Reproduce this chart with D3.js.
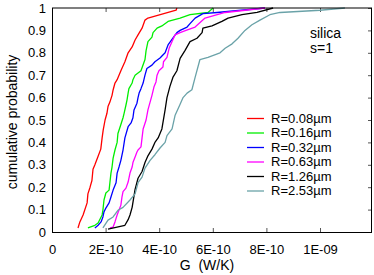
<!DOCTYPE html>
<html>
<head>
<meta charset="utf-8">
<script src="https://cdn.jsdelivr.net/npm/d3@7"></script>
<style>
  body { margin: 0; background: #fff; }
  text { font-family: "Liberation Sans", Arial, sans-serif; }
</style>
</head>
<body>
<div id="chart"></div>
<script>
// G values in units of 1E-10 W/K, paired with cumulative probability
var r008 = [[0.97,0.018],[1.04,0.045],[1.16,0.076],[1.31,0.13],[1.34,0.17],[1.42,0.20],[1.49,0.23],[1.53,0.28],
  [1.60,0.30],[1.71,0.335],[1.82,0.37],[1.87,0.42],[1.91,0.455],[1.98,0.5],[2.05,0.53],[2.09,0.56],[2.16,0.58],
  [2.24,0.61],[2.28,0.634],[2.35,0.665],[2.43,0.68],[2.50,0.70],[2.57,0.72],[2.72,0.76],[2.84,0.80],[2.99,0.826],
  [3.10,0.857],[3.21,0.88],[3.36,0.91],[3.47,0.946],[3.58,0.955],[4.63,0.99],[4.66,1.0]];
var r016 = [[1.34,0.018],[1.60,0.03],[1.72,0.04],[1.87,0.076],[1.90,0.098],[1.94,0.143],[2.01,0.174],[2.13,0.187],
  [2.16,0.22],[2.20,0.263],[2.24,0.29],[2.28,0.33],[2.35,0.366],[2.43,0.40],[2.46,0.44],[2.57,0.48],[2.65,0.51],
  [2.69,0.53],[2.76,0.567],[2.80,0.59],[2.84,0.62],[2.87,0.64],[2.99,0.665],[3.02,0.68],[3.10,0.70],[3.32,0.72],
  [3.47,0.77],[3.51,0.81],[3.58,0.85],[3.73,0.87],[3.77,0.89],[3.92,0.91],[4.10,0.92],[4.33,0.94],[4.78,0.955],
  [5.15,0.97],[5.82,0.98],[6.01,1.0]];
var r032 = [[1.60,0.018],[1.72,0.03],[1.83,0.045],[1.90,0.067],[1.94,0.09],[2.01,0.107],[2.13,0.13],[2.20,0.156],
  [2.28,0.187],[2.39,0.22],[2.43,0.263],[2.50,0.29],[2.57,0.32],[2.65,0.366],[2.72,0.42],[2.84,0.47],[2.95,0.487],
  [3.02,0.51],[3.06,0.545],[3.17,0.575],[3.21,0.60],[3.25,0.62],[3.32,0.64],[3.40,0.665],[3.43,0.68],[3.47,0.70],
  [3.54,0.73],[3.73,0.745],[3.84,0.76],[4.03,0.777],[4.22,0.80],[4.33,0.835],[4.51,0.866],[4.66,0.89],[4.78,0.90],
  [5.04,0.915],[5.15,0.93],[5.34,0.955],[5.63,0.975],[6.16,0.98],[7.95,1.0]];
var r063 = [[2.16,0.018],[2.28,0.022],[2.35,0.045],[2.43,0.076],[2.50,0.098],[2.57,0.12],[2.61,0.156],[2.65,0.18],
  [2.76,0.196],[2.84,0.223],[2.91,0.263],[2.99,0.29],[3.02,0.31],[3.10,0.335],[3.17,0.357],[3.21,0.366],[3.32,0.38],
  [3.36,0.42],[3.40,0.46],[3.51,0.50],[3.58,0.545],[3.66,0.58],[3.73,0.61],[3.81,0.65],[3.88,0.67],[3.92,0.70],
  [3.99,0.72],[4.14,0.737],[4.16,0.76],[4.29,0.78],[4.37,0.82],[4.48,0.85],[4.59,0.88],[4.78,0.89],[5.00,0.90],
  [5.34,0.915],[5.71,0.955],[6.46,0.98],[7.95,1.0]];
var r126 = [[2.09,0.013],[2.72,0.03],[2.84,0.055],[2.91,0.076],[2.99,0.11],[3.10,0.19],[3.21,0.24],[3.36,0.27],
  [3.47,0.31],[3.58,0.34],[3.73,0.37],[3.84,0.40],[3.96,0.42],[4.10,0.46],[4.22,0.545],[4.29,0.60],[4.40,0.65],
  [4.51,0.69],[4.66,0.72],[4.78,0.775],[4.96,0.81],[5.15,0.85],[5.41,0.865],[5.60,0.89],[5.63,0.91],[5.97,0.92],
  [6.34,0.94],[6.57,0.955],[7.09,0.97],[7.65,0.98],[8.25,1.0]];
var r253 = [[1.90,0.018],[2.09,0.053],[2.28,0.067],[2.46,0.097],[2.65,0.11],[2.91,0.143],[3.10,0.17],[3.21,0.22],
  [3.36,0.245],[3.47,0.285],[3.66,0.32],[3.84,0.345],[4.03,0.375],[4.22,0.40],[4.29,0.43],[4.48,0.46],[4.59,0.52],
  [4.78,0.57],[4.89,0.60],[5.04,0.62],[5.22,0.635],[5.34,0.69],[5.52,0.77],[5.82,0.78],[6.27,0.80],[6.46,0.82],
  [6.72,0.84],[6.94,0.865],[7.20,0.90],[7.46,0.925],[7.76,0.946],[8.13,0.97],[8.51,0.98],[10.0,0.99],[10.93,1.0]];

var seriesNames = ["R=0.08\u00b5m", "R=0.16\u00b5m", "R=0.32\u00b5m", "R=0.63\u00b5m", "R=1.26\u00b5m", "R=2.53\u00b5m"];
var seriesColors = ["#ff0000", "#00ee00", "#0000ff", "#ff00ff", "#000000", "#6aa2a8"];
var seriesData = [r008, r016, r032, r063, r126, r253];

var xTickValues = [0, 2, 4, 6, 8, 10];
var xTickLabels = ["0", "2E-10", "4E-10", "6E-10", "8E-10", "1E-09"];
var yTickValues = [0, 0.1, 0.2, 0.3, 0.4, 0.5, 0.6, 0.7, 0.8, 0.9, 1];
var yTickLabels = ["0", "0.1", "0.2", "0.3", "0.4", "0.5", "0.6", "0.7", "0.8", "0.9", "1"];

var svgWidth = 374;
var svgHeight = 275;
var margin = {top: 8, right: 2, bottom: 43, left: 52};
var width = svgWidth - margin.left - margin.right;
var height = svgHeight - margin.top - margin.bottom;

var svg = d3.select("#chart")
    .append("svg")
    .attr("width", svgWidth)
    .attr("height", svgHeight);

var chartGroup = svg.append("g")
    .attr("transform", `translate(${margin.left}, ${margin.top})`);

var xScale = d3.scaleLinear()
    .domain([0, 11.94])
    .range([0, width]);

var yScale = d3.scaleLinear()
    .domain([0, 1])
    .range([height, 0]);

// axes: ticks point inward like gnuplot
var bottomAxis = d3.axisBottom(xScale)
    .tickValues(xTickValues)
    .tickFormat((d, i) => xTickLabels[i])
    .tickSize(-4)
    .tickPadding(13);

var topAxis = d3.axisTop(xScale)
    .tickValues(xTickValues)
    .tickFormat("")
    .tickSize(-4);

var leftAxis = d3.axisLeft(yScale)
    .tickValues(yTickValues)
    .tickFormat((d, i) => yTickLabels[i])
    .tickSize(0)
    .tickPadding(6);

var rightAxis = d3.axisRight(yScale)
    .tickValues(yTickValues)
    .tickFormat("")
    .tickSize(-4);

var gb = chartGroup.append("g")
    .attr("transform", `translate(0, ${height})`)
    .call(bottomAxis);
var gt = chartGroup.append("g").call(topAxis);
var gl = chartGroup.append("g").call(leftAxis);
var gr = chartGroup.append("g")
    .attr("transform", `translate(${width}, 0)`)
    .call(rightAxis);

[gb, gt, gl, gr].forEach(function(g){
    g.select(".domain").remove();
    g.selectAll(".tick line").attr("stroke", "#555");
    g.selectAll("text")
        .attr("font-size", "13px")
        .attr("fill", "#000")
        .style("font-family", "'Liberation Sans', Arial, sans-serif");
});

// the curves
var line = d3.line()
    .x(d => xScale(d[0]))
    .y(d => yScale(d[1]));

seriesData.forEach(function(data, i){
    chartGroup.append("path")
        .datum(data)
        .attr("d", line)
        .attr("fill", "none")
        .attr("stroke", seriesColors[i])
        .attr("stroke-width", 1.3)
        .attr("stroke-linejoin", "round");
});

// frame
chartGroup.append("rect")
    .attr("x", 0.5)
    .attr("y", 0)
    .attr("width", width - 1)
    .attr("height", height + 0.5)
    .attr("fill", "none")
    .attr("stroke", "#000")
    .attr("stroke-width", 1);

// legend
var legend = chartGroup.append("g")
    .attr("transform", `translate(${width - 125}, 110)`);

seriesNames.forEach(function(name, i){
    legend.append("line")
        .attr("x1", 0)
        .attr("x2", 17)
        .attr("y1", i * 14.5 + 0.5)
        .attr("y2", i * 14.5 + 0.5)
        .attr("stroke", seriesColors[i])
        .attr("stroke-width", 1.3);
    legend.append("text")
        .attr("x", 24)
        .attr("y", i * 14.5)
        .attr("dy", "0.35em")
        .attr("font-size", "13px")
        .text(name);
});

// annotation
chartGroup.append("text")
    .attr("x", 258)
    .attr("y", 30)
    .attr("font-size", "14px")
    .text("silica");
chartGroup.append("text")
    .attr("x", 258)
    .attr("y", 45)
    .attr("font-size", "14px")
    .text("s=1");

// axis labels
svg.append("text")
    .attr("transform", "rotate(-90)")
    .attr("x", -122)
    .attr("y", 17)
    .attr("text-anchor", "middle")
    .attr("font-size", "14px")
    .text("cumulative probability");

svg.append("text")
    .attr("x", 207)
    .attr("y", 270)
    .attr("text-anchor", "middle")
    .attr("font-size", "14px")
    .style("white-space", "pre")
    .text("G  (W/K)");
</script>
</body>
</html>
